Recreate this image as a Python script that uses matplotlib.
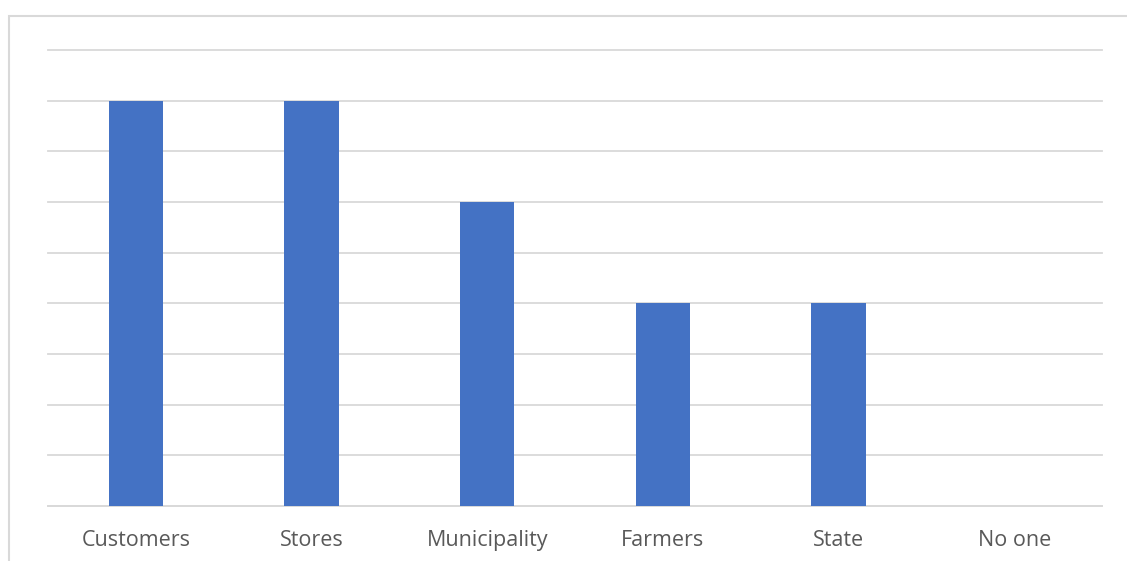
import matplotlib.pyplot as plt
from matplotlib.patches import Rectangle

categories = ['Customers', 'Stores', 'Municipality', 'Farmers', 'State', 'No one']
values = [8, 8, 6, 4, 4, 0]

W, H = 1127, 561
fig = plt.figure(figsize=(W / 100, H / 100), dpi=100)

# outer chart frame (runs off the right and bottom edges)
fig.patches.append(Rectangle((9 / W, -0.1), 1.2, 1.1 - 16 / H, transform=fig.transFigure,
                             fill=False, edgecolor='#d9d9d9', linewidth=1.5))

ax = fig.add_axes([48 / W, 1 - 506 / H, (1102 - 48) / W, (506 - 50) / H])
x = range(len(categories))
ax.bar(x, values, width=0.31, color='#4472c4', zorder=3)

ax.set_xlim(-0.5, len(categories) - 0.5)
ax.set_ylim(0, 9)
ax.set_yticks(range(0, 10))
ax.yaxis.grid(True, color='#d9d9d9', linewidth=1.3, zorder=0)
for gl in ax.get_ygridlines():
    gl.set_clip_on(False)
ax.tick_params(axis='y', left=False, labelleft=False)
ax.tick_params(axis='x', length=0, pad=17)
ax.set_xticks(list(x))
ax.set_xticklabels(categories, fontsize=15.5, color='#595959', family='Open Sans')
for s in ['top', 'left', 'right']:
    ax.spines[s].set_visible(False)
ax.spines['bottom'].set_color('#d9d9d9')
ax.spines['bottom'].set_linewidth(1.3)

fig.savefig('out.png', dpi=100)
